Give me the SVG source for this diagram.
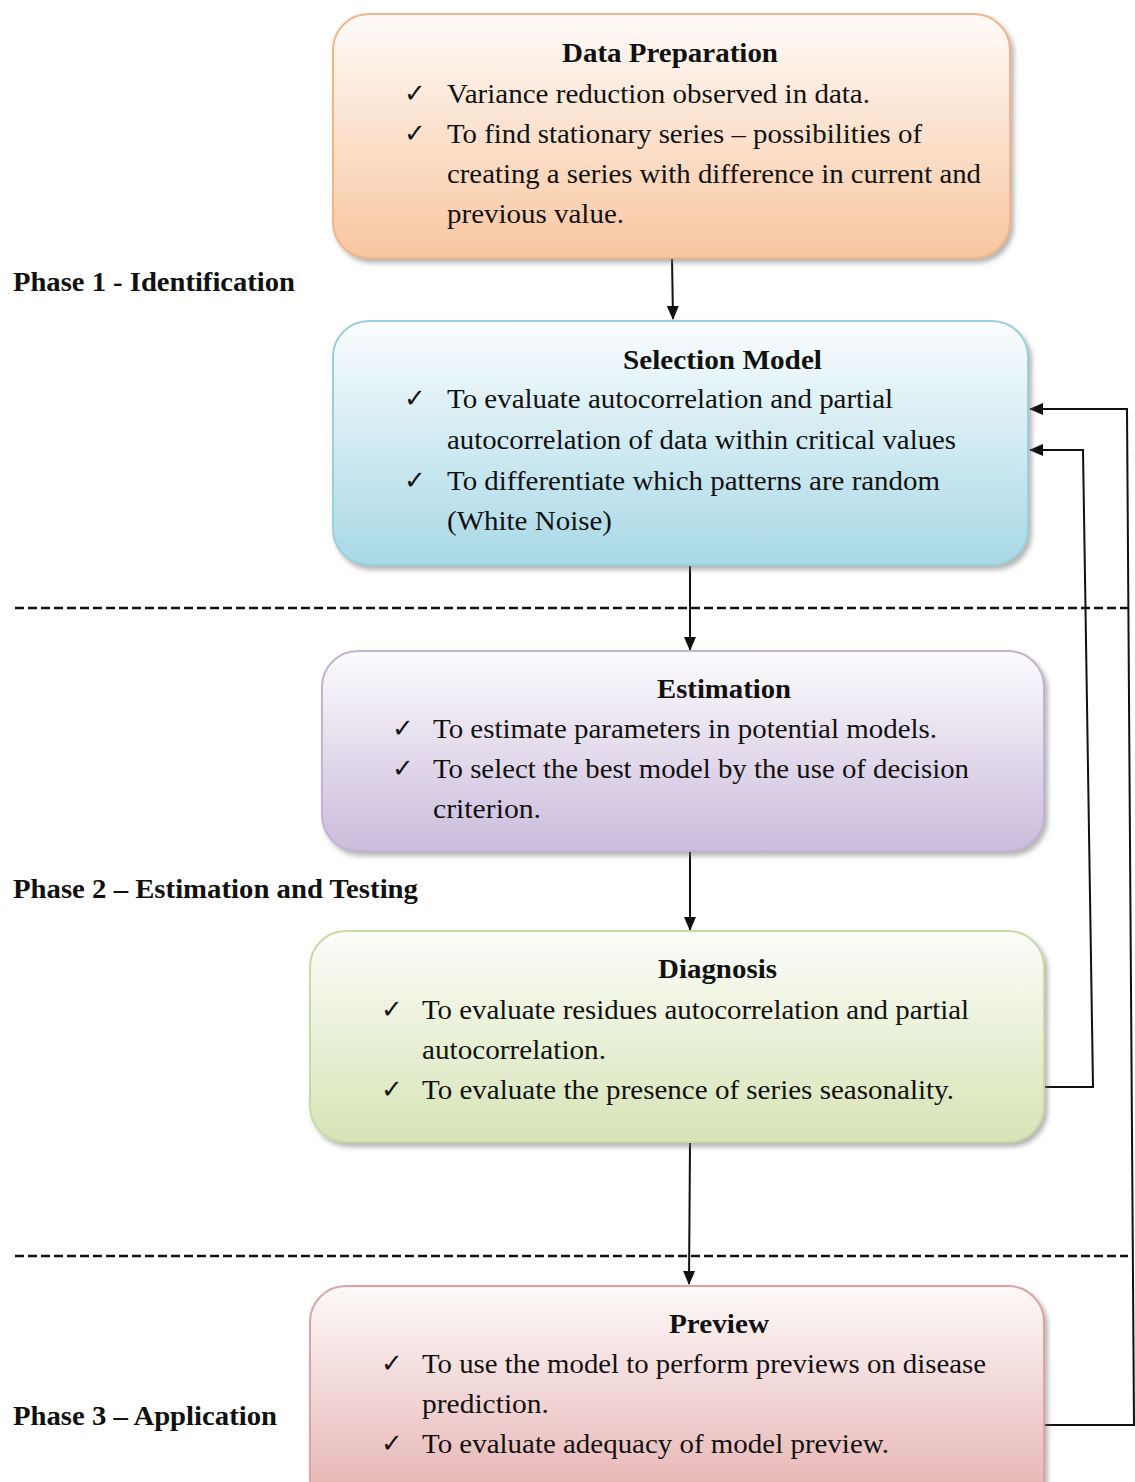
<svg xmlns="http://www.w3.org/2000/svg" width="1135" height="1482" viewBox="0 0 1135 1482">
<defs>
<style>
.t{font-family:"Liberation Serif","Times New Roman",serif;font-size:28px;fill:#111}
.b{font-family:"Liberation Serif","Times New Roman",serif;font-size:27px;font-weight:bold;fill:#111}
.ck{font-family:"DejaVu Sans",sans-serif;font-size:26px;fill:#111}
.ln{fill:none;stroke:#111;stroke-width:2}
.dash{fill:none;stroke:#111;stroke-width:2.5;stroke-dasharray:9 4}
</style>
<marker id="ah" markerWidth="14" markerHeight="14" refX="13" refY="7" orient="auto" markerUnits="userSpaceOnUse">
<path d="M0,1 L14,7 L0,13 Z" fill="#111"/>
</marker>
<filter id="sh" x="-5%" y="-5%" width="112%" height="115%">
<feDropShadow dx="3" dy="4" stdDeviation="2.5" flood-color="#777" flood-opacity="0.55"/>
</filter>
<linearGradient id="gO" x1="0" y1="0" x2="0" y2="1"><stop offset="0" stop-color="#fefbf8"/><stop offset="1" stop-color="#f8c6a0"/></linearGradient>
<linearGradient id="gB" x1="0" y1="0" x2="0" y2="1"><stop offset="0" stop-color="#fafdfe"/><stop offset="1" stop-color="#a8d8e6"/></linearGradient>
<linearGradient id="gP" x1="0" y1="0" x2="0" y2="1"><stop offset="0" stop-color="#fcfbfd"/><stop offset="1" stop-color="#cbbcdc"/></linearGradient>
<linearGradient id="gG" x1="0" y1="0" x2="0" y2="1"><stop offset="0" stop-color="#fcfdf9"/><stop offset="1" stop-color="#d6e4b6"/></linearGradient>
<linearGradient id="gR" x1="0" y1="0" x2="0" y2="1"><stop offset="0" stop-color="#fdf9f9"/><stop offset="1" stop-color="#e5aeae"/></linearGradient>
</defs>
<rect width="1135" height="1482" fill="#fff"/>

<g id="labels">
<text class="b" x="13" y="291" textLength="282" lengthAdjust="spacingAndGlyphs">Phase 1 - Identification</text>
<text class="b" x="13" y="898" textLength="405" lengthAdjust="spacingAndGlyphs">Phase 2 – Estimation and Testing</text>
<text class="b" x="13" y="1425" textLength="264" lengthAdjust="spacingAndGlyphs">Phase 3 – Application</text>
</g>

<g id="separators">
<line class="dash" x1="15" y1="608" x2="1128" y2="608"/>
<line class="dash" x1="15" y1="1256" x2="1128" y2="1256"/>
</g>

<g id="connectors">
<line class="ln" x1="672" y1="258" x2="673" y2="319" marker-end="url(#ah)"/>
<line class="ln" x1="690" y1="566" x2="690" y2="650" marker-end="url(#ah)"/>
<line class="ln" x1="690" y1="852" x2="690" y2="930" marker-end="url(#ah)"/>
<line class="ln" x1="690" y1="1143" x2="689" y2="1284" marker-end="url(#ah)"/>
<polyline class="ln" points="1044,1087 1093,1087 1083,450 1030,450" marker-end="url(#ah)"/>
<polyline class="ln" points="1044,1425 1135,1425 1134,1425 1127,409 1030,409" marker-end="url(#ah)"/>
</g>

<g id="data-preparation">
<rect x="333" y="14" width="677" height="244" rx="36" fill="url(#gO)" stroke="#f3b489" stroke-width="2" filter="url(#sh)"/>
<text class="b" x="562" y="62" textLength="216" lengthAdjust="spacingAndGlyphs">Data Preparation</text>
<text class="ck" x="404" y="102">✓</text>
<text class="t" x="447" y="103" textLength="423" lengthAdjust="spacingAndGlyphs">Variance reduction observed in data.</text>
<text class="ck" x="404" y="142">✓</text>
<text class="t" x="447" y="143" textLength="475" lengthAdjust="spacingAndGlyphs">To find stationary series – possibilities of</text>
<text class="t" x="447" y="183" textLength="534" lengthAdjust="spacingAndGlyphs">creating a series with difference in current and</text>
<text class="t" x="447" y="223" textLength="177" lengthAdjust="spacingAndGlyphs">previous value.</text>
</g>

<g id="selection-model">
<rect x="333" y="321" width="695" height="244" rx="36" fill="url(#gB)" stroke="#9ccfdc" stroke-width="2" filter="url(#sh)"/>
<text class="b" x="623" y="369" textLength="199" lengthAdjust="spacingAndGlyphs">Selection Model</text>
<text class="ck" x="404" y="407">✓</text>
<text class="t" x="447" y="408" textLength="446" lengthAdjust="spacingAndGlyphs">To evaluate autocorrelation and partial</text>
<text class="t" x="447" y="449" textLength="509" lengthAdjust="spacingAndGlyphs">autocorrelation of data within critical values</text>
<text class="ck" x="404" y="489">✓</text>
<text class="t" x="447" y="490" textLength="493" lengthAdjust="spacingAndGlyphs">To differentiate which patterns are random</text>
<text class="t" x="447" y="530" textLength="165" lengthAdjust="spacingAndGlyphs">(White Noise)</text>
</g>

<g id="estimation">
<rect x="322" y="651" width="722" height="200" rx="36" fill="url(#gP)" stroke="#c2b3d6" stroke-width="2" filter="url(#sh)"/>
<text class="b" x="657" y="698" textLength="134" lengthAdjust="spacingAndGlyphs">Estimation</text>
<text class="ck" x="392" y="737">✓</text>
<text class="t" x="433" y="738" textLength="504" lengthAdjust="spacingAndGlyphs">To estimate parameters in potential models.</text>
<text class="ck" x="392" y="777">✓</text>
<text class="t" x="433" y="778" textLength="536" lengthAdjust="spacingAndGlyphs">To select the best model by the use of decision</text>
<text class="t" x="433" y="818" textLength="108" lengthAdjust="spacingAndGlyphs">criterion.</text>
</g>

<g id="diagnosis">
<rect x="310" y="931" width="734" height="211" rx="36" fill="url(#gG)" stroke="#c8dba5" stroke-width="2" filter="url(#sh)"/>
<text class="b" x="658" y="978" textLength="119" lengthAdjust="spacingAndGlyphs">Diagnosis</text>
<text class="ck" x="381" y="1018">✓</text>
<text class="t" x="422" y="1019" textLength="547" lengthAdjust="spacingAndGlyphs">To evaluate residues autocorrelation and partial</text>
<text class="t" x="422" y="1059" textLength="184" lengthAdjust="spacingAndGlyphs">autocorrelation.</text>
<text class="ck" x="381" y="1098">✓</text>
<text class="t" x="422" y="1099" textLength="532" lengthAdjust="spacingAndGlyphs">To evaluate the presence of series seasonality.</text>
</g>

<g id="preview">
<rect x="310" y="1286" width="734" height="230" rx="36" fill="url(#gR)" stroke="#dfa3a3" stroke-width="2" filter="url(#sh)"/>
<text class="b" x="669" y="1333" textLength="100" lengthAdjust="spacingAndGlyphs">Preview</text>
<text class="ck" x="381" y="1372">✓</text>
<text class="t" x="422" y="1373" textLength="564" lengthAdjust="spacingAndGlyphs">To use the model to perform previews on disease</text>
<text class="t" x="422" y="1413" textLength="127" lengthAdjust="spacingAndGlyphs">prediction.</text>
<text class="ck" x="381" y="1452">✓</text>
<text class="t" x="422" y="1453" textLength="467" lengthAdjust="spacingAndGlyphs">To evaluate adequacy of model preview.</text>
</g>
</svg>
